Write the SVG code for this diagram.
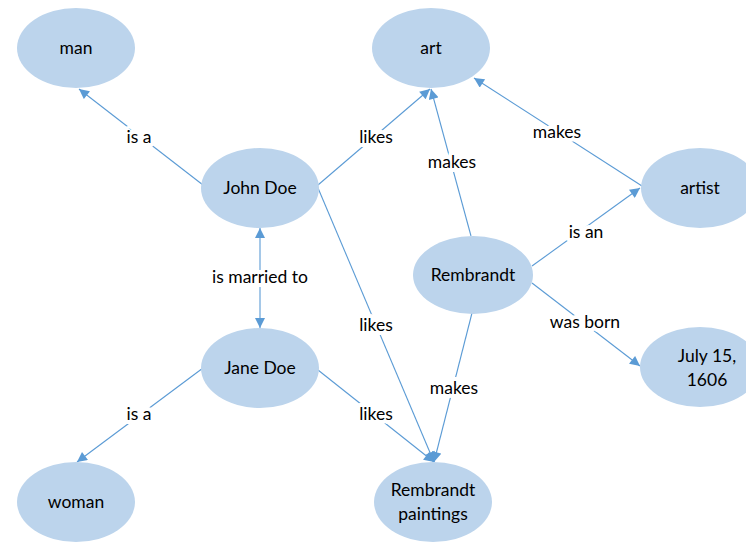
<svg xmlns="http://www.w3.org/2000/svg" width="746" height="542" viewBox="0 0 746 542">
<defs>
<marker id="ah" viewBox="0 0 10 10" refX="10" refY="5" markerWidth="11" markerHeight="10" markerUnits="userSpaceOnUse" orient="auto-start-reverse">
<path d="M0,0 L10,5 L0,10 Z" fill="#5B9BD5"/>
</marker>
</defs>
<style>
.n{fill:#BCD4EC;}
.t{font-family:Lato,"Open Sans","Liberation Sans",sans-serif;font-size:17.5px;fill:#000;text-anchor:middle;}
.e{stroke:#5B9BD5;stroke-width:1.1;fill:none;marker-end:url(#ah);}
.l{font-family:Lato,"Open Sans","Liberation Sans",sans-serif;font-size:17.5px;fill:#000;text-anchor:middle;stroke:#fff;stroke-width:8;stroke-linejoin:round;paint-order:stroke;}
</style>
<rect width="746" height="542" fill="#fff"/>
<g id="edges">
<line class="e" x1="203" y1="185" x2="79" y2="89"/>
<line class="e" x1="318" y1="185" x2="430" y2="89"/>
<line class="e" x1="471" y1="236" x2="431" y2="89"/>
<line class="e" x1="642" y1="186" x2="474" y2="78"/>
<line class="e" x1="532" y1="266" x2="640" y2="188"/>
<line class="e" x1="532" y1="283" x2="640" y2="366"/>
<line class="e" x1="260" y1="328" x2="260" y2="228" style="marker-start:url(#ah)"/>
<line class="e" x1="318" y1="188" x2="434" y2="462"/>
<line class="e" x1="318" y1="370" x2="434" y2="462"/>
<line class="e" x1="472" y1="313" x2="434" y2="462"/>
<line class="e" x1="203" y1="368" x2="77" y2="462"/>
<text class="l" x="139" y="143">is a</text>
<text class="l" x="376" y="143">likes</text>
<text class="l" x="452" y="168">makes</text>
<text class="l" x="557" y="138">makes</text>
<text class="l" x="586" y="238">is an</text>
<text class="l" x="585" y="328">was born</text>
<text class="l" x="260" y="283">is married to</text>
<text class="l" x="376" y="331">likes</text>
<text class="l" x="376" y="420">likes</text>
<text class="l" x="454" y="394">makes</text>
<text class="l" x="139" y="420">is a</text>
</g>
<g id="man"><ellipse class="n" cx="76" cy="48" rx="59" ry="40"/><text class="t" x="76" y="54">man</text></g>
<g id="art"><ellipse class="n" cx="431" cy="48" rx="59" ry="40"/><text class="t" x="431" y="54">art</text></g>
<g id="artist"><ellipse class="n" cx="700" cy="188" rx="59" ry="40"/><text class="t" x="700" y="194">artist</text></g>
<g id="johndoe"><ellipse class="n" cx="260" cy="188" rx="59" ry="40"/><text class="t" x="260" y="194">John Doe</text></g>
<g id="janedoe"><ellipse class="n" cx="260" cy="368" rx="59" ry="40"/><text class="t" x="260" y="374">Jane Doe</text></g>
<g id="rembrandt"><ellipse class="n" cx="473" cy="275" rx="60" ry="39"/><text class="t" x="473" y="281">Rembrandt</text></g>
<g id="july"><ellipse class="n" cx="700" cy="367" rx="60" ry="40"/><text class="t" x="707" y="362">July 15,</text><text class="t" x="707" y="386">1606</text></g>
<g id="paintings"><ellipse class="n" cx="433" cy="502" rx="59" ry="40"/><text class="t" x="433" y="496">Rembrandt</text><text class="t" x="433" y="520">paintings</text></g>
<g id="woman"><ellipse class="n" cx="76" cy="502" rx="59" ry="40"/><text class="t" x="76" y="508">woman</text></g>
</svg>
